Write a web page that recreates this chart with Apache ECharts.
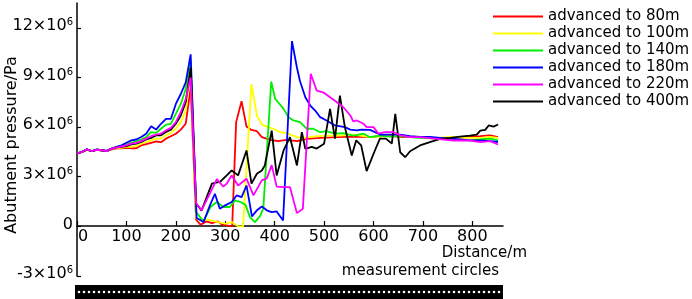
<!DOCTYPE html>
<html>
<head>
<meta charset="utf-8">
<script src="https://cdn.jsdelivr.net/npm/echarts@6/dist/echarts.min.js"></script>
<style>
html, body { margin: 0; padding: 0; background: #fff; }
#chart { width: 692px; height: 299px; }
</style>
</head>
<body>
<div id="chart"></div>
<script>
// pressure values are in units of 10^6 Pa
var preDist = [0, 10, 20, 30, 40, 50, 60, 70, 80, 90, 100, 110, 120, 130, 140, 150, 160, 170, 180, 190, 200, 210, 220, 230];

var redDist = preDist.concat([241, 250, 262, 273, 285, 294, 305, 314, 322, 333, 343, 353, 364, 374, 391, 407, 424, 445, 465, 492, 525, 559, 593, 627, 660, 694, 728, 761, 795, 816, 836, 852]);
var redVal = [4.4, 4.5, 4.62, 4.55, 4.62, 4.58, 4.55, 4.65, 4.72, 4.72, 4.75, 4.72, 4.72, 4.89, 4.97, 5.05, 5.13, 5.09, 5.3, 5.45, 5.6, 5.85, 6.2, 8.4,
  0.4, 0.1, 0.3, 0.2, 0.3, 0.1, 0.05, 0.0, 6.3, 7.56, 6.03, 5.83, 5.75, 5.39, 5.23, 5.15, 5.23, 5.15, 5.29, 5.35, 5.39, 5.43, 5.39, 5.49, 5.39, 5.39, 5.33, 5.35, 5.4, 5.45, 5.5, 5.4];

var yellowDist = preDist.concat([241, 252, 265, 285, 300, 314, 326, 336, 353, 364, 374, 384, 397, 411, 424, 445, 458, 478, 505, 532, 559, 593, 627, 660, 694, 728, 761, 795, 816, 836, 852]);
var yellowVal = [4.4, 4.5, 4.64, 4.55, 4.63, 4.6, 4.55, 4.68, 4.76, 4.75, 4.8, 4.8, 4.85, 5.0, 5.1, 5.2, 5.3, 5.3, 5.5, 5.65, 5.9, 6.3, 7.0, 9.2,
  0.5, 0.36, 0.4, 0.26, 0.16, 0.25, 0.0, 0.0, 8.6, 6.7, 6.16, 6.03, 5.9, 5.69, 5.63, 5.39, 5.35, 5.43, 5.49, 5.49, 5.55, 5.4, 5.45, 5.45, 5.4, 5.35, 5.4, 5.35, 5.35, 5.4, 5.35];

var greenDist = preDist.concat([241, 256, 270, 283, 296, 309, 320, 331, 341, 350, 360, 370, 377, 393, 401, 407, 418, 428, 438, 451, 465, 478, 492, 505, 522, 539, 559, 580, 593, 613, 633, 654, 674, 694, 728, 761, 795, 816, 836, 852]);
var greenVal = [4.4, 4.5, 4.65, 4.55, 4.63, 4.6, 4.55, 4.7, 4.8, 4.85, 4.95, 5.05, 5.15, 5.25, 5.4, 5.7, 5.65, 5.9, 6.15, 6.2, 6.8, 7.4, 8.3, 10.0,
  0.86, 0.3, 1.17, 1.47, 1.17, 1.17, 1.57, 1.47, 1.3, 0.56, 0.26, 0.6, 1.07, 8.75, 7.7, 7.5, 7.1, 6.6, 6.4, 6.3, 5.9, 5.9, 5.69, 5.75, 5.6, 5.63, 5.49, 5.6, 5.39, 5.49, 5.43, 5.45, 5.4, 5.35, 5.3, 5.25, 5.2, 5.25, 5.3, 5.2];

var blueDist = preDist.concat([242, 256, 269, 279, 289, 300, 313, 323, 333, 343, 354, 364, 374, 384, 394, 404, 417, 435, 445, 451, 462, 472, 482, 492, 505, 522, 542, 553, 566, 576, 593, 613, 633, 654, 674, 694, 714, 735, 755, 775, 795, 816, 836, 852]);
var blueVal = [4.4, 4.5, 4.65, 4.55, 4.65, 4.6, 4.58, 4.7, 4.8, 4.9, 5.05, 5.2, 5.25, 5.4, 5.6, 6.05, 5.85, 6.2, 6.5, 6.5, 7.4, 8.0, 8.7, 10.4,
  0.5, 0.26, 1.27, 1.97, 1.07, 1.27, 1.47, 1.87, 1.77, 2.47, 0.6, 0.97, 1.2, 0.97, 0.86, 0.9, 0.36, 11.2, 9.6, 8.8, 7.8, 7.3, 7.0, 6.6, 6.4, 6.1, 6.0, 5.85, 5.8, 5.85, 5.83, 5.55, 5.55, 5.55, 5.45, 5.4, 5.4, 5.35, 5.3, 5.25, 5.2, 5.2, 5.15, 5.1];

var magentaDist = preDist.concat([241, 252, 269, 283, 296, 303, 313, 326, 343, 357, 374, 384, 394, 404, 418, 431, 445, 457, 473, 485, 498, 512, 526, 539, 553, 559, 566, 580, 586, 600, 610, 623, 640, 654, 674, 694, 728, 762, 795, 816, 836, 852]);
var magentaVal = [4.4, 4.5, 4.65, 4.55, 4.63, 4.6, 4.55, 4.7, 4.78, 4.82, 4.9, 5.0, 5.05, 5.15, 5.3, 5.45, 5.55, 5.6, 5.8, 5.95, 6.3, 6.9, 7.7, 9.0,
  1.4, 0.97, 2.0, 2.85, 2.4, 2.58, 3.08, 2.47, 2.88, 1.87, 2.78, 2.9, 3.7, 2.4, 2.37, 2.37, 0.8, 1.07, 9.22, 8.21, 8.1, 7.8, 7.5, 7.2, 6.7, 6.35, 6.4, 6.2, 6.0, 6.0, 5.6, 5.7, 5.7, 5.5, 5.39, 5.39, 5.29, 5.19, 5.19, 5.09, 5.15, 4.95];

var blackDist = preDist.concat([241, 252, 273, 290, 303, 313, 326, 343, 353, 364, 374, 380, 394, 404, 418, 431, 445, 455, 462, 475, 485, 500, 512, 522, 532, 542, 556, 565, 575, 586, 603, 613, 625, 637, 644, 654, 664, 674, 694, 714, 735, 755, 775, 795, 809, 816, 826, 833, 843, 852]);
var blackVal = [4.4, 4.5, 4.64, 4.55, 4.63, 4.6, 4.55, 4.7, 4.78, 4.8, 4.85, 4.95, 5.0, 5.1, 5.25, 5.35, 5.5, 5.5, 5.7, 5.85, 6.2, 6.7, 7.5, 9.6,
  1.4, 0.95, 2.58, 2.7, 3.08, 3.38, 3.08, 4.59, 2.58, 3.18, 3.38, 3.68, 5.79, 3.08, 4.59, 5.39, 3.68, 5.69, 4.69, 4.8, 4.7, 5.0, 7.1, 5.3, 7.9, 6.0, 4.28, 5.2, 4.9, 3.34, 4.6, 5.3, 5.3, 5.0, 6.8, 4.48, 4.18, 4.54, 4.89, 5.09, 5.29, 5.35, 5.43, 5.49, 5.55, 5.79, 5.83, 6.1, 6.03, 6.16];

var xTicks = [0, 100, 200, 300, 400, 500, 600, 700, 800];
var yTicks = [-3, 0, 3, 6, 9, 12];

var names = ['advanced to 80m', 'advanced to 100m', 'advanced to 140m', 'advanced to 180m', 'advanced to 220m', 'advanced to 400m'];

var FONT = 'DejaVu Sans';

function pairs(d, v) {
  var out = [];
  for (var i = 0; i < d.length; i++) out.push([d[i], v[i]]);
  return out;
}

function line(name, color, d, v, z) {
  return {
    name: name,
    type: 'line',
    symbol: 'none',
    z: z,
    color: color,
    lineStyle: { color: color, width: 1.8 },
    data: pairs(d, v)
  };
}

var chart = echarts.init(document.getElementById('chart'));

var option = {
  animation: false,
  backgroundColor: '#fff',
  grid: { left: 77, right: 189, top: 3, bottom: 23 },
  legend: {
    data: names,
    orient: 'vertical',
    left: 493,
    top: 8,
    padding: 0,
    icon: 'rect',
    itemWidth: 50,
    itemHeight: 2,
    itemGap: 0,
    textStyle: { fontFamily: FONT, fontSize: 15, color: '#000', lineHeight: 17 }
  },
  xAxis: {
    type: 'value',
    min: 0,
    max: 862,
    // grid bottom sits at -3, so pull the axis up to the zero line
    offset: -50,
    axisLine: { onZero: false, lineStyle: { color: '#000', width: 1.5 } },
    axisTick: { inside: true, length: 5, customValues: xTicks, lineStyle: { color: '#000', width: 1.2 } },
    axisLabel: {
      customValues: xTicks,
      margin: 3,
      color: '#000',
      fontFamily: FONT,
      fontSize: 16,
      formatter: function (v) { return v === 0 ? '{z|0}' : String(v); },
      rich: { z: { fontFamily: FONT, fontSize: 16, color: '#000', padding: [0, 0, 0, 12] } }
    },
    splitLine: { show: false }
  },
  yAxis: {
    type: 'value',
    min: -3,
    max: 13.5,
    axisLine: { show: true, lineStyle: { color: '#000', width: 1.5 } },
    axisTick: { show: true, inside: true, length: 4, customValues: yTicks, lineStyle: { color: '#000', width: 1.2 } },
    axisLabel: {
      customValues: yTicks,
      margin: 4,
      padding: [0, 0, 4, 0],
      formatter: function (v) { return v === 0 ? '{n|0}' : '{n|' + v + '×10}{s|6}'; },
      rich: {
        n: { fontFamily: FONT, fontSize: 16, color: '#000' },
        s: { fontFamily: FONT, fontSize: 10, color: '#000', padding: [0, 0, 7, 0] }
      }
    },
    splitLine: { show: false }
  },
  graphic: [
    {
      type: 'text', x: 12, y: 145, rotation: Math.PI / 2,
      style: { text: 'Abutment pressure/Pa', fontFamily: FONT, fontSize: 16, fill: '#000', align: 'center', verticalAlign: 'middle', textAlign: 'center', textVerticalAlign: 'middle' }
    },
    {
      type: 'text', x: 527, y: 253,
      style: { text: 'Distance/m', fontFamily: FONT, fontSize: 15, fill: '#000', align: 'right', verticalAlign: 'middle', textAlign: 'right', textVerticalAlign: 'middle' }
    },
    {
      type: 'text', x: 499, y: 271,
      style: { text: 'measurement circles', fontFamily: FONT, fontSize: 15, fill: '#000', align: 'right', verticalAlign: 'middle', textAlign: 'right', textVerticalAlign: 'middle' }
    },
    {
      type: 'rect', shape: { x: 75, y: 285, width: 428, height: 14 },
      style: { fill: '#000' }
    },
    {
      type: 'line', shape: { x1: 79, y1: 292, x2: 501, y2: 292 },
      style: { stroke: '#fff', lineWidth: 2.6, lineDash: [0, 5], lineCap: 'round' }
    }
  ],
  series: [
    line(names[0], '#ff0000', redDist, redVal, 2),
    line(names[1], '#ffff00', yellowDist, yellowVal, 3),
    line(names[2], '#00ee00', greenDist, greenVal, 4),
    line(names[3], '#0000ff', blueDist, blueVal, 5),
    line(names[5], '#000000', blackDist, blackVal, 6),
    line(names[4], '#ff00ff', magentaDist, magentaVal, 7)
  ]
};

chart.setOption(option);
</script>
</body>
</html>
